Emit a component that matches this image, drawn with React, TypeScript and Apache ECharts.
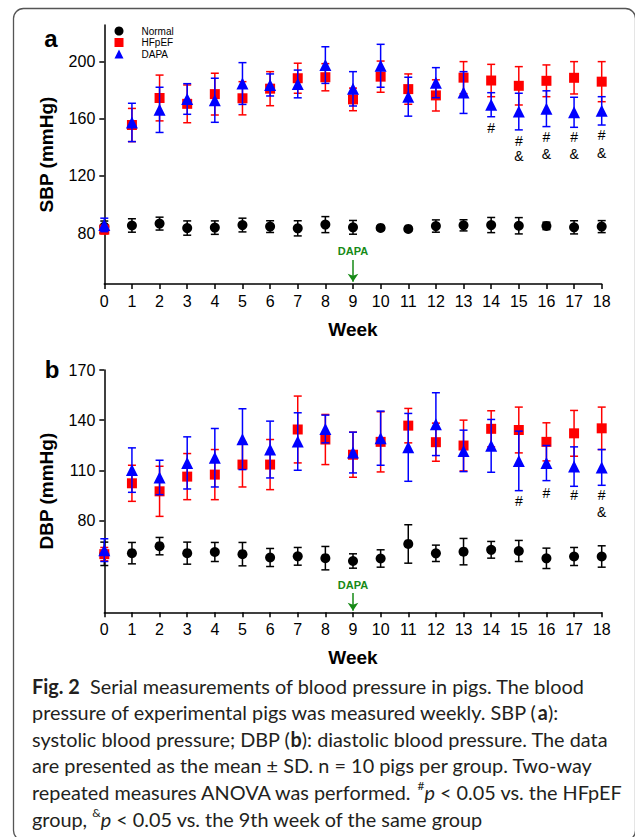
import React, { useEffect, useRef } from "react";
import * as echarts from "echarts";

// ---------- data ----------
const weeks = [0, 1, 2, 3, 4, 5, 6, 7, 8, 9, 10, 11, 12, 13, 14, 15, 16, 17, 18];

const sbpNormalMean = [84.5, 85.4, 86.7, 83.6, 83.9, 85.7, 84.6, 83.4, 86.0, 84.1, 83.7, 83.0, 85.0, 85.5, 85.7, 85.2, 85.1, 84.1, 84.6];
const sbpNormalSD = [4.0, 4.7, 4.5, 5.0, 4.7, 4.8, 4.1, 5.3, 5.6, 4.8, 1.5, 1.5, 4.3, 3.9, 5.3, 5.7, 2.6, 4.6, 4.2];
const sbpHfpefMean = [82.5, 155.6, 174.5, 170.4, 177.2, 174.3, 181.0, 188.3, 189.0, 173.5, 189.4, 180.7, 176.3, 188.7, 186.7, 183.0, 186.5, 188.6, 185.9];
const sbpHfpefSD = [3.0, 11.6, 16.0, 13.2, 14.6, 11.6, 11.9, 10.5, 9.5, 7.9, 10.9, 10.6, 10.9, 11.2, 11.3, 13.4, 11.1, 11.3, 14.0];
const sbpDapaMean = [85.8, 157.4, 166.2, 173.8, 172.9, 184.6, 183.6, 184.3, 197.5, 180.9, 197.0, 175.4, 185.2, 178.3, 169.8, 165.0, 167.0, 164.5, 165.5];
const sbpDapaSD = [4.7, 13.4, 15.8, 10.7, 15.4, 14.6, 7.7, 9.7, 12.8, 12.0, 15.0, 13.6, 10.5, 14.6, 8.4, 12.8, 12.5, 10.5, 9.9];

const dbpNormalMean = [60.0, 60.4, 64.6, 60.4, 61.1, 59.8, 57.8, 58.5, 57.4, 55.7, 57.2, 65.9, 60.3, 61.3, 62.4, 61.7, 57.3, 58.4, 58.4];
const dbpNormalSD = [7.0, 6.4, 5.2, 6.6, 5.7, 7.0, 5.4, 5.3, 7.0, 4.3, 5.2, 11.5, 4.9, 7.9, 5.0, 6.3, 6.1, 5.4, 6.4];
const dbpHfpefMean = [59.8, 102.2, 97.4, 106.2, 107.4, 113.4, 113.4, 134.4, 128.4, 119.3, 127.0, 136.7, 126.8, 124.8, 134.8, 134.1, 127.0, 132.1, 135.1];
const dbpHfpefSD = [4.0, 10.8, 15.0, 13.8, 15.0, 13.4, 15.0, 20.0, 15.0, 13.5, 18.0, 10.3, 11.4, 15.2, 10.8, 13.7, 11.4, 13.7, 12.7];
const dbpDapaMean = [62.2, 110.1, 105.7, 114.4, 117.5, 128.6, 122.4, 127.2, 134.7, 120.6, 129.2, 123.7, 137.6, 121.6, 124.6, 115.6, 114.3, 112.2, 111.7];
const dbpDapaSD = [6.8, 13.3, 10.3, 15.6, 17.5, 18.2, 17.0, 17.2, 8.3, 12.2, 16.2, 20.3, 18.8, 12.4, 15.8, 17.8, 10.5, 11.8, 10.7];

const sbpTicks = [80, 120, 160, 200];
const dbpTicks = [80, 110, 140, 170];

// significance marks: [week, value, mark]
const sbpMarks: [number, number, string][] = [
  [14, 153.3, "#"],
  [15, 144.7, "#"], [15, 134.0, "&"],
  [16, 147.5, "#"], [16, 135.4, "&"],
  [17, 147.5, "#"], [17, 135.4, "&"],
  [18, 148.7, "#"], [18, 136.3, "&"],
];
const dbpMarks: [number, number, string][] = [
  [15, 91.5, "#"],
  [16, 96.4, "#"],
  [17, 95.4, "#"],
  [18, 95.1, "#"], [18, 85.2, "&"],
];

// DAPA start arrow (week, top value, bottom value)
const dapaWeek = 9;
const sbpArrow = [61.3, 46.1];
const dbpArrow = [36.5, 26.0];

const captionLines = [
  "{b|Fig. 2}  Serial measurements of blood pressure in pigs. The blood",
  "pressure of experimental pigs was measured weekly. SBP ({b|a}):",
  "systolic blood pressure; DBP ({b|b}): diastolic blood pressure. The data",
  "are presented as the mean \u00b1 SD. n = 10 pigs per group. Two-way",
  "repeated measures ANOVA was performed. {sup|#}{i|p} < 0.05 vs. the HFpEF",
  "group, {sup|&}{i|p} < 0.05 vs. the 9th week of the same group",
];

// ---------- styling ----------
const FONT = '"Liberation Sans", Arial, sans-serif';
const CAP_FONT = "Lato, sans-serif";
const BLACK = "#000000";
const RED = "#ff0000";
const BLUE = "#0000ff";
const GREEN = "#168a16";

function errRender(color: string) {
  return (params: any, api: any) => {
    const x = api.value(0);
    const lo = api.coord([x, api.value(1)]);
    const hi = api.coord([x, api.value(2)]);
    const w = 4;
    const style = { stroke: color, lineWidth: 1.5, fill: "none" };
    return {
      type: "group",
      children: [
        { type: "line", shape: { x1: lo[0], y1: lo[1], x2: hi[0], y2: hi[1] }, style },
        { type: "line", shape: { x1: lo[0] - w, y1: lo[1], x2: lo[0] + w, y2: lo[1] }, style },
        { type: "line", shape: { x1: hi[0] - w, y1: hi[1], x2: hi[0] + w, y2: hi[1] }, style },
      ],
    };
  };
}

function groupSeries(
  name: string,
  mean: number[],
  sd: number[],
  color: string,
  symbol: string,
  size: number,
  axis: number,
  z: number,
  extra: any = {}
) {
  return [
    {
      type: "custom",
      name: name + "-err",
      xAxisIndex: axis,
      yAxisIndex: axis,
      z,
      renderItem: errRender(color),
      encode: { x: 0, y: [1, 2] },
      data: weeks.map((w, i) => [w, mean[i] - sd[i], mean[i] + sd[i]]),
      silent: true,
    },
    {
      type: "scatter",
      name,
      xAxisIndex: axis,
      yAxisIndex: axis,
      z: z + 1,
      symbol,
      symbolSize: size,
      itemStyle: { color, opacity: 1 },
      data: weeks.map((w, i) => [w, mean[i]]),
      silent: true,
      ...extra,
    },
  ];
}

function dapaMarkLine(arrow: number[]) {
  return {
    markLine: {
      silent: true,
      animation: false,
      symbol: ["none", "arrow"],
      symbolSize: 8,
      symbolOffset: 0,
      lineStyle: { color: GREEN, width: 1.5, type: "solid", opacity: 1 },
      itemStyle: { color: GREEN },
      label: {
        show: true,
        position: "start",
        formatter: "DAPA",
        color: GREEN,
        fontWeight: "bold",
        fontSize: 11,
        fontFamily: FONT,
        distance: 3,
      },
      data: [[{ coord: [dapaWeek, arrow[0]] }, { coord: [dapaWeek, arrow[1]] }]],
    },
  };
}

function markSeries(marks: [number, number, string][], axis: number) {
  return {
    type: "scatter",
    name: "marks" + axis,
    xAxisIndex: axis,
    yAxisIndex: axis,
    z: 10,
    symbolSize: 0,
    itemStyle: { color: "#000" },
    label: {
      show: true,
      position: "inside",
      formatter: (p: any) => p.data[2],
      color: "#000",
      opacity: 1,
      fontSize: 14,
      fontFamily: FONT,
    },
    data: marks,
    silent: true,
  };
}

function xAxisCfg(gridIndex: number) {
  return {
    type: "value",
    gridIndex,
    min: 0,
    max: 18,
    interval: 1,
    axisLine: { show: true, onZero: false, lineStyle: { color: "#000", width: 1.5 } },
    axisTick: { show: true, length: 5, lineStyle: { color: "#000", width: 1.5 } },
    axisLabel: { fontSize: 16, color: "#000", margin: 9, fontFamily: FONT },
    splitLine: { show: false },
    name: "Week",
    nameLocation: "middle",
    nameGap: 36,
    nameTextStyle: { fontWeight: "bold", fontSize: 19, color: "#000", fontFamily: FONT },
  };
}

function yAxisCfg(gridIndex: number, min: number, max: number, ticks: number[], name: string) {
  return {
    type: "value",
    gridIndex,
    min,
    max,
    axisLine: { show: true, onZero: false, lineStyle: { color: "#000", width: 1.5 } },
    axisTick: { show: true, length: 5, customValues: ticks, lineStyle: { color: "#000", width: 1.5 } },
    axisLabel: { fontSize: 16, color: "#000", margin: 9, fontFamily: FONT, customValues: ticks },
    splitLine: { show: false },
    name,
    nameLocation: "middle",
    nameGap: 48,
    nameTextStyle: { fontWeight: "bold", fontSize: 19, color: "#000", fontFamily: FONT },
  };
}

function measureScale(): number {
  try {
    const c = document.createElement("canvas");
    const ctx = c.getContext("2d");
    if (!ctx) return 0.9;
    ctx.font = "20px Lato";
    const plain = captionLines[2].replace(/\{b\|([^}]*)\}/g, "$1");
    const w = ctx.measureText(plain).width;
    return w > 0 ? (548 / w) * 1.05 : 0.9;
  } catch (e) {
    return 0.9;
  }
}

export default function App() {
  const ref = useRef<HTMLDivElement>(null);

  useEffect(() => {
    if (!ref.current) return;
    const chart = echarts.init(ref.current, null, { renderer: "svg" });
    const sx = measureScale();
    const capStart = 32;
    const capY = [685.5, 712.1, 738.7, 765.3, 791.9, 818.5];
    const rich = {
      b: { fontWeight: "bold", fontFamily: CAP_FONT, fontSize: 20, lineHeight: 24, fill: "#231f20" },
      i: { fontStyle: "italic", fontFamily: CAP_FONT, fontSize: 20, lineHeight: 24, fill: "#231f20" },
      sup: { fontFamily: CAP_FONT, fontSize: 12, lineHeight: 12, verticalAlign: "top", fill: "#231f20" },
    };

    const option: any = {
      animation: false,
      backgroundColor: "#ffffff",
      grid: [
        { left: 104.3, width: 497.4, top: 25, height: 259 },
        { left: 104.3, width: 497.4, top: 370, height: 242.3 },
      ],
      xAxis: [xAxisCfg(0), xAxisCfg(1)],
      yAxis: [
        yAxisCfg(0, 44.5, 225.5, sbpTicks, "SBP (mmHg)"),
        yAxisCfg(1, 25, 170, dbpTicks, "DBP (mmHg)"),
      ],
      legend: {
        left: 114.5,
        top: 26,
        orient: "vertical",
        padding: 0,
        itemWidth: 9,
        itemHeight: 9,
        itemGap: 1.5,
        selectedMode: false,
        textStyle: { fontSize: 10, fontFamily: FONT, color: "#000", padding: [0, 0, 0, 13], lineHeight: 9 },
        data: [
          { name: "Normal", icon: "circle" },
          { name: "HFpEF", icon: "rect" },
          { name: "DAPA", icon: "triangle" },
        ],
      },
      series: [
        ...groupSeries("Normal", sbpNormalMean, sbpNormalSD, BLACK, "circle", 10, 0, 2, dapaMarkLine(sbpArrow)),
        ...groupSeries("HFpEF", sbpHfpefMean, sbpHfpefSD, RED, "rect", 10, 0, 4),
        ...groupSeries("DAPA", sbpDapaMean, sbpDapaSD, BLUE, "triangle", 12, 0, 6),
        markSeries(sbpMarks, 0),
        ...groupSeries("Normal", dbpNormalMean, dbpNormalSD, BLACK, "circle", 10, 1, 2, dapaMarkLine(dbpArrow)),
        ...groupSeries("HFpEF", dbpHfpefMean, dbpHfpefSD, RED, "rect", 10, 1, 4),
        ...groupSeries("DAPA", dbpDapaMean, dbpDapaSD, BLUE, "triangle", 12, 1, 6),
        markSeries(dbpMarks, 1),
      ],
      graphic: [
        {
          type: "rect",
          silent: true,
          z: -10,
          shape: { x: 13.5, y: 8.5, width: 622, height: 832, r: 10 },
          style: { fill: "none", stroke: "#555555", lineWidth: 1.3 },
        },
        {
          type: "text",
          x: 51,
          y: 38,
          style: { text: "a", fontSize: 24, fontWeight: "bold", fontFamily: FONT, fill: "#000", align: "center", verticalAlign: "middle" },
        },
        {
          type: "text",
          x: 52,
          y: 369,
          style: { text: "b", fontSize: 24, fontWeight: "bold", fontFamily: FONT, fill: "#000", align: "center", verticalAlign: "middle" },
        },
        ...captionLines.map((line, k) => ({
          type: "text",
          x: capStart,
          y: capY[k],
          scaleX: sx,
          style: {
            text: line,
            fontFamily: CAP_FONT,
            fontSize: 20,
            lineHeight: 24,
            fill: "#231f20",
            align: "left",
            verticalAlign: "middle",
            rich,
          },
        })),
      ],
    };
    chart.setOption(option);
    return () => chart.dispose();
  }, []);

  return (
    <div
      ref={ref}
      style={{ position: "fixed", left: 0, top: 0, width: 635, height: 837, background: "#fff" }}
    />
  );
}
